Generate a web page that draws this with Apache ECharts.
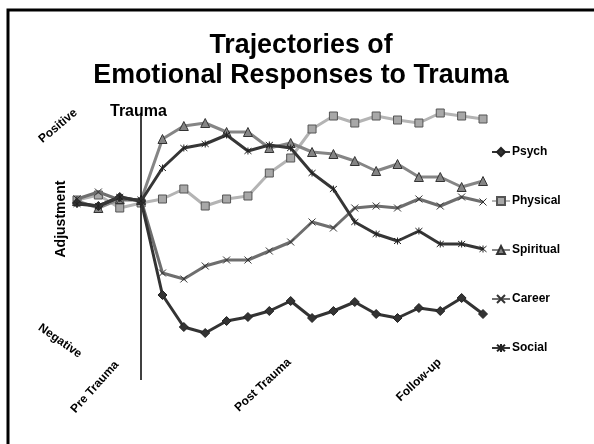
<!DOCTYPE html>
<html>
<head>
<meta charset="utf-8">
<script src="https://cdn.jsdelivr.net/npm/echarts@6/dist/echarts.min.js"></script>
<style>html,body{margin:0;padding:0;background:#fff}#c{width:594px;height:444px}</style>
</head>
<body>
<div id="c"></div>
<script>
// time points (20 measurements; index 3 = trauma)
const timePoints = ['T1','T2','T3','T4','T5','T6','T7','T8','T9','T10','T11','T12','T13','T14','T15','T16','T17','T18','T19','T20'];
const traumaIndex = 3;
// adjustment values (arbitrary scale, higher = more positive)
const psych     = [147,144,153,149,55,23,17,29,33,39,49,32,39,48,36,32,42,39,52,36];
const physical  = [150,155,142,147,151,161,144,151,154,177,192,221,234,227,234,230,227,237,234,231];
const spiritual = [149,142,151,150,211,224,227,218,218,202,207,198,196,189,179,186,173,173,163,169];
const career    = [151,158,150,150,77,71,84,90,90,99,108,128,122,142,144,142,151,144,153,148];
const social    = [146,144,153,149,182,202,206,215,199,205,202,177,161,128,116,109,119,106,106,101];
const seriesNames = ['Psych','Physical','Spiritual','Career','Social'];
const phaseLabels = ['Pre Trauma','Post Trauma','Follow-up'];

const FONT = 'Liberation Sans, Arial, sans-serif';
const xPath = 'path://M0,0L10,10M10,0L0,10';
const starPath = 'path://M0,0L10,10M10,0L0,10M5,-1L5,11';

const chart = echarts.init(document.getElementById('c'), null, {renderer:'canvas'});

function mk(name, data, lineColor, symbol, size, fill, border, bw, z) {
  return {
    name, type:'line', data, symbol, symbolSize:size, clip:false, z:z,
    lineStyle:{color:lineColor, width:3},
    itemStyle:{color:fill, borderColor:border, borderWidth:bw},
    emphasis:{disabled:true}, animation:false
  };
}

const series = [
  mk(seriesNames[0], psych, '#333333', 'diamond', 9, '#333333', '#222222', 1, 5),
  mk(seriesNames[1], physical, '#b4b4b4', 'rect', 8, '#a8a8a8', '#555555', 1, 2),
  mk(seriesNames[2], spiritual, '#858585', 'triangle', 9, '#858585', '#333333', 1, 3),
  mk(seriesNames[3], career, '#6e6e6e', xPath, 7, 'rgba(0,0,0,0)', '#333333', 1, 4),
  mk(seriesNames[4], social, '#363636', starPath, 7, 'rgba(0,0,0,0)', '#222222', 1, 6)
];
series[0].markLine = {
  silent:true, symbol:'none', animation:false,
  label:{show:false},
  lineStyle:{color:'#000', width:1.5, type:'solid'},
  data:[{xAxis: traumaIndex}]
};

chart.setOption({
  animation:false,
  title:{
    text:'Trajectories of\nEmotional Responses to Trauma',
    left:296, textAlign:'center', top:26,
    textStyle:{fontFamily:FONT, fontSize:26.8, fontWeight:'bold', lineHeight:30, color:'#000'}
  },
  grid:{left:77, right:111, top:113, bottom:64},
  xAxis:{type:'category', data:timePoints, boundaryGap:false, show:false},
  yAxis:{type:'value', min:-30, max:237, show:false},
  legend:{
    orient:'vertical', left:491, top:146, padding:0, itemGap:37, itemWidth:18, itemHeight:10,
    data:seriesNames, selectedMode:false,
    textStyle:{fontFamily:FONT, fontSize:12, fontWeight:'bold', color:'#000', padding:[0,0,0,-3]}
  },
  graphic:[
    {type:'rect', shape:{x:8, y:10, width:700, height:600}, style:{fill:'none', stroke:'#000', lineWidth:3}, silent:true},
    {type:'text', x:110, y:112, style:{text:'Trauma', font:'bold 16px '+FONT, fill:'#000', verticalAlign:'middle', align:'left'}},
    {type:'text', x:58, y:126, rotation:40*Math.PI/180, style:{text:'Positive', font:'bold 12px '+FONT, fill:'#000', align:'center', verticalAlign:'middle'}},
    {type:'text', x:60, y:341, rotation:-35*Math.PI/180, style:{text:'Negative', font:'bold 12px '+FONT, fill:'#000', align:'center', verticalAlign:'middle'}},
    {type:'text', x:61, y:219, rotation:Math.PI/2, style:{text:'Adjustment', font:'bold 14px '+FONT, fill:'#000', align:'center', verticalAlign:'middle'}},
    {type:'text', x:95, y:387, rotation:48*Math.PI/180, style:{text:phaseLabels[0], font:'bold 12px '+FONT, fill:'#000', align:'center', verticalAlign:'middle'}},
    {type:'text', x:263, y:385, rotation:43*Math.PI/180, style:{text:phaseLabels[1], font:'bold 12px '+FONT, fill:'#000', align:'center', verticalAlign:'middle'}},
    {type:'text', x:419, y:380, rotation:43*Math.PI/180, style:{text:phaseLabels[2], font:'bold 12px '+FONT, fill:'#000', align:'center', verticalAlign:'middle'}}
  ],
  series
});
</script>
</body>
</html>
